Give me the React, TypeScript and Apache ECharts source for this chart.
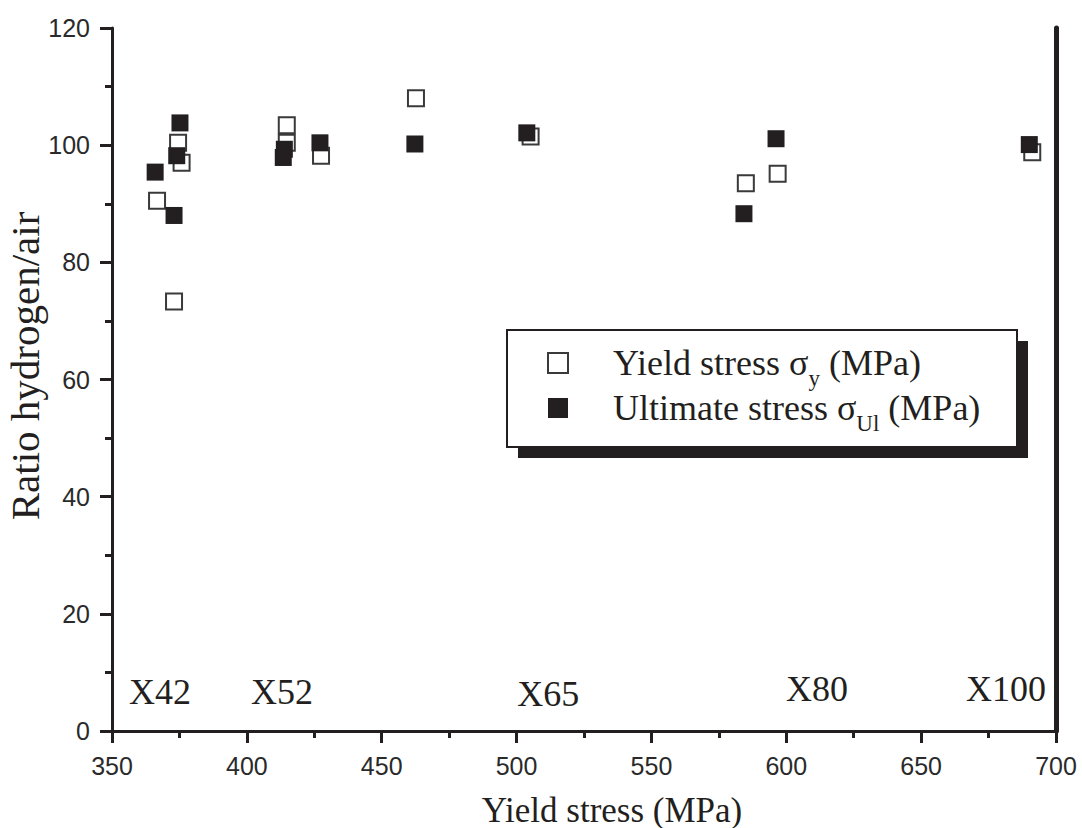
import React, { useEffect, useRef } from "react";
import * as echarts from "echarts";

const yieldRatio: number[][] = [
  [366.7, 90.5], [373.0, 73.3], [374.5, 100.4], [375.8, 97.0], [414.8, 103.4], [414.8, 100.4],
  [427.5, 98.2], [462.7, 108.0], [505.2, 101.5], [585.0, 93.5], [596.8, 95.1], [691.2, 98.8],
];
const ultimateRatio: number[][] = [
  [366.0, 95.4], [373.0, 88.0], [375.2, 103.8], [374.0, 98.2], [413.9, 99.3], [413.5, 97.9],
  [427.1, 100.4], [462.3, 100.2], [503.8, 102.1], [584.3, 88.3], [596.2, 101.1], [690.1, 100.1],
];
const grades = ["X42", "X52", "X65", "X80", "X100"];
const gradeX = [367.8, 413.0, 511.7, 611.4, 681.5];
const gradeY = [6.6, 6.6, 6.4, 7.1, 7.1];
const xTicks = { min: 350, max: 700, interval: 50 };
const yTicks = { min: 0, max: 120, interval: 20 };

const INK = "#231f20";
const SERIF = "'Liberation Serif', 'Times New Roman', serif";
const SANS = "'Liberation Sans', Arial, sans-serif";

export default function App() {
  const ref = useRef<HTMLDivElement>(null);
  useEffect(() => {
    if (!ref.current) return;
    const chart = echarts.init(ref.current, null, { renderer: "svg" });
    const axisCommon = {
      type: "value" as const,
      splitLine: { show: false },
      axisLine: { show: true, lineStyle: { color: INK, width: 3 } },
      axisTick: { show: true, inside: false, length: 12, lineStyle: { color: INK, width: 3 } },
      minorTick: { show: true, splitNumber: 2, length: 7, lineStyle: { color: INK, width: 3 } },
      axisLabel: { margin: 22, fontSize: 25, fontFamily: SANS, color: "#2a2a2a" },
    };
    const richText = {
      sp: { width: 40, lineHeight: 54 },
      a: { fontSize: 36, fontFamily: SERIF, color: INK, lineHeight: 54 },
      s: { fontSize: 23, fontFamily: SERIF, color: INK, lineHeight: 20, verticalAlign: "bottom" as const },
    };
    chart.setOption({
      animation: false,
      backgroundColor: "#fff",
      grid: { left: 112, right: 26, top: 28, bottom: 97, containLabel: false },
      xAxis: [
        { ...axisCommon, ...xTicks, position: "bottom" },
        {
          type: "value", ...xTicks, position: "top",
          axisLine: { show: true, lineStyle: { color: INK, width: 2.5 } },
          axisTick: { show: false }, axisLabel: { show: false }, splitLine: { show: false },
        },
      ],
      yAxis: [
        { ...axisCommon, ...yTicks, position: "left" },
        {
          type: "value", ...yTicks, position: "right",
          axisLine: { show: true, lineStyle: { color: INK, width: 5 } },
          axisTick: { show: false }, axisLabel: { show: false }, splitLine: { show: false },
        },
      ],
      legend: {
        orient: "vertical",
        left: 547,
        top: 345,
        padding: 0,
        itemGap: 0,
        itemWidth: 20,
        itemHeight: 20,
        icon: "rect",
        data: ["Yield stress", "Ultimate stress"],
        formatter: (name: string) =>
          name === "Yield stress"
            ? "{sp|}{a|Yield stress σ}{s|y}{a| (MPa)}"
            : "{sp|}{a|Ultimate stress σ}{s|Ul}{a| (MPa)}",
        textStyle: { rich: richText },
        z: 10,
      },
      graphic: [
        { type: "rect", shape: { x: 518, y: 341, width: 510, height: 117 }, style: { fill: INK }, z: 5 },
        { type: "rect", shape: { x: 507, y: 330, width: 510, height: 117 }, style: { fill: "#fff", stroke: INK, lineWidth: 2 }, z: 6 },
        {
          type: "text", x: 612, y: 810,
          style: { text: "Yield stress (MPa)", font: `35px ${SERIF}`, fill: INK, align: "center", verticalAlign: "middle" },
        },
        {
          type: "text", x: 25, y: 366, rotation: Math.PI / 2,
          style: { text: "Ratio hydrogen/air", font: `41px ${SERIF}`, fill: INK, align: "center", verticalAlign: "middle" },
        },
      ],
      series: [
        {
          name: "Yield stress",
          type: "scatter",
          symbol: "rect",
          symbolSize: 16,
          itemStyle: { color: "#fff", borderColor: "#3a3a3a", borderWidth: 2, opacity: 1 },
          data: yieldRatio,
          z: 2,
        },
        {
          name: "Ultimate stress",
          type: "scatter",
          symbol: "rect",
          symbolSize: 17,
          itemStyle: { color: INK, opacity: 1 },
          data: ultimateRatio,
          z: 3,
        },
        {
          name: "grades",
          type: "scatter",
          symbolSize: 1,
          itemStyle: { color: "rgba(0,0,0,0)" },
          silent: true,
          data: grades.map((g, i) => [gradeX[i], gradeY[i], g]),
          label: {
            show: true,
            position: "inside",
            formatter: (p: any) => p.data[2],
            fontSize: 36,
            fontFamily: SERIF,
            color: INK,
            opacity: 1,
            textBorderWidth: 0,
            textShadowBlur: 0,
          },
          z: 1,
        },
      ],
    });
    return () => chart.dispose();
  }, []);
  return (
    <div
      ref={ref}
      style={{ position: "absolute", left: 0, top: 0, width: 1082, height: 828, background: "#fff" }}
    />
  );
}
